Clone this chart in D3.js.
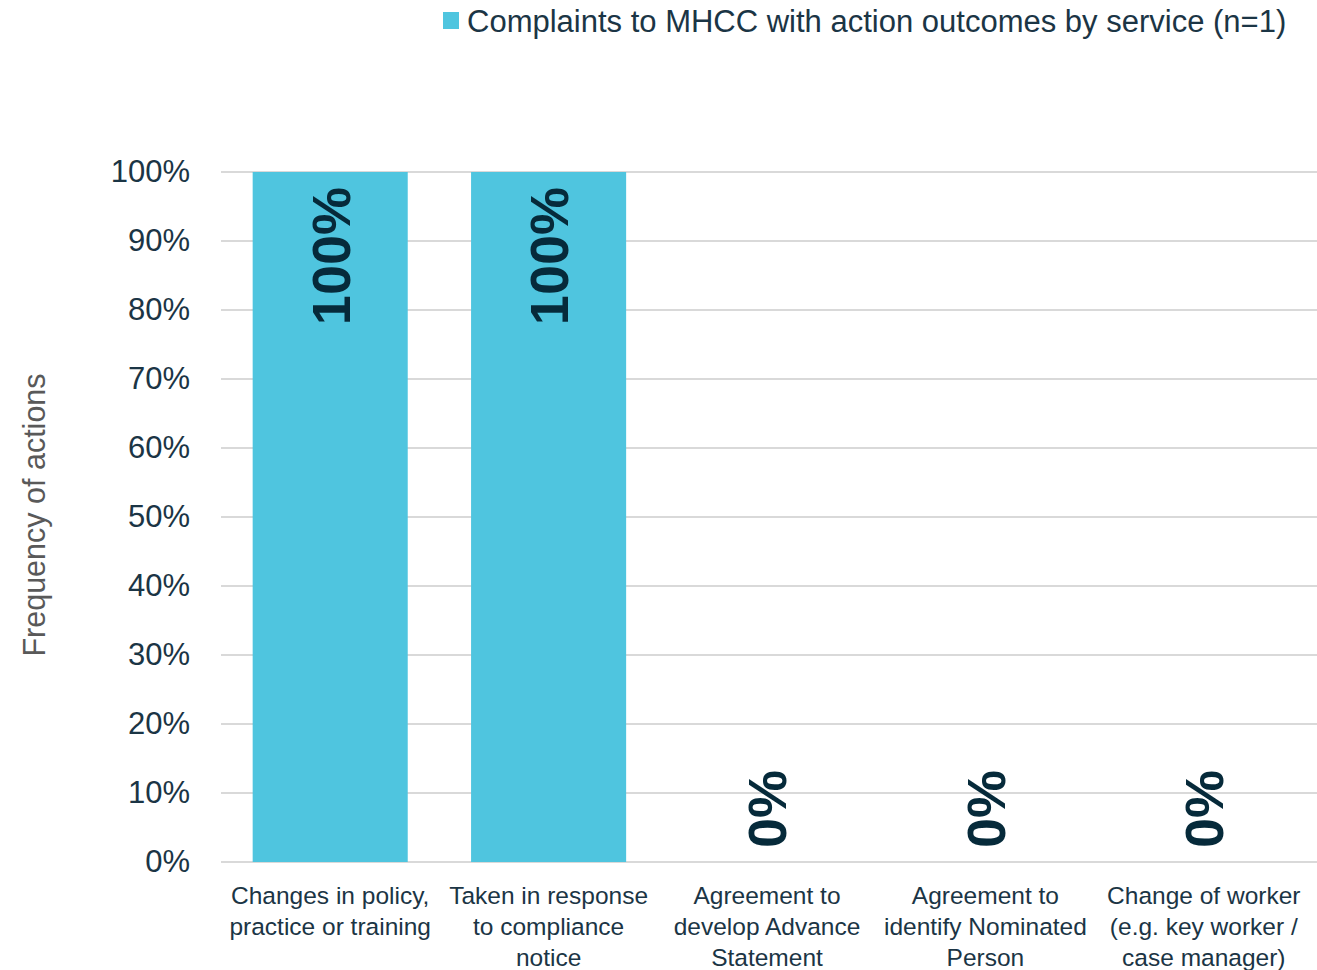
<!DOCTYPE html>
<html>
<head>
<meta charset="utf-8">
<script src="https://cdn.jsdelivr.net/npm/d3@7"></script>
<style>
  html, body { margin: 0; padding: 0; background: #ffffff; }
  svg { display: block; font-family: "Liberation Sans", Arial, sans-serif; }
</style>
</head>
<body>
<svg id="chart" width="1317" height="970"></svg>
<script>
// Action outcomes for MHCC complaints, one value per outcome type
const categories = [
  ["Changes in policy,", "practice or training"],
  ["Taken in response", "to compliance", "notice"],
  ["Agreement to", "develop Advance", "Statement"],
  ["Agreement to", "identify Nominated", "Person"],
  ["Change of worker", "(e.g. key worker /", "case manager)"]
];
const values = [1, 1, 0, 0, 0];
const yTicks = [0, 0.1, 0.2, 0.3, 0.4, 0.5, 0.6, 0.7, 0.8, 0.9, 1.0];
const seriesName = "Complaints to MHCC with action outcomes by service (n=1)";
const yTitle = "Frequency of actions";

const barColor = "#4fc5df";
const textColor = "#1b3545";
const labelColor = "#062a3a";
const gridColor = "#d9d9d9";

const svg = d3.select("#chart");
const W = 1317, H = 970;
const plotLeft = 221, plotRight = 1313, plotTop = 172, plotBottom = 862;

const x = d3.scaleBand()
  .domain(d3.range(categories.length))
  .range([plotLeft, plotRight])
  .paddingInner(0.29)
  .paddingOuter(0.145);

const y = d3.scaleLinear()
  .domain([0, 1])
  .range([plotBottom, plotTop]);

// Horizontal gridlines
svg.append("g")
  .selectAll("line")
  .data(yTicks)
  .join("line")
  .attr("x1", plotLeft)
  .attr("x2", W)
  .attr("y1", d => y(d))
  .attr("y2", d => y(d))
  .attr("stroke", gridColor)
  .attr("stroke-width", 2);

// Y axis tick labels
const yAxis = d3.axisLeft(y)
  .tickValues(yTicks)
  .tickFormat(d3.format(".0%"))
  .tickSize(0)
  .tickPadding(31);
const yg = svg.append("g")
  .attr("transform", `translate(${plotLeft},0)`)
  .call(yAxis);
yg.select(".domain").remove();
yg.selectAll("text")
  .attr("fill", textColor)
  .style("font-size", "31px")
  .style("font-family", "'Liberation Sans', Arial, sans-serif");

// Bars
svg.append("g")
  .selectAll("rect")
  .data(values)
  .join("rect")
  .attr("x", (d, i) => x(i))
  .attr("width", x.bandwidth())
  .attr("y", d => y(d))
  .attr("height", d => y(0) - y(d))
  .attr("fill", barColor);

// Rotated value labels
svg.append("g")
  .selectAll("text")
  .data(values)
  .join("text")
  .attr("transform", (d, i) => {
    const cx = x(i) + x.bandwidth() / 2;
    const cy = d > 0 ? y(d) + 15 : y(d) - 14;
    return `translate(${cx},${cy}) rotate(-90)`;
  })
  .attr("text-anchor", d => d > 0 ? "end" : "start")
  .attr("dy", "0.36em")
  .attr("fill", labelColor)
  .style("font-weight", "bold")
  .style("font-size", "54px")
  .text(d => d3.format(".0%")(d));

// Category labels
const xg = svg.append("g");
categories.forEach((lines, i) => {
  const cx = x(i) + x.bandwidth() / 2;
  const t = xg.append("text")
    .attr("x", cx)
    .attr("y", 904)
    .attr("text-anchor", "middle")
    .attr("fill", textColor)
    .style("font-size", "24.5px");
  lines.forEach((ln, j) => {
    t.append("tspan")
      .attr("x", cx)
      .attr("dy", j === 0 ? 0 : 31)
      .text(ln);
  });
});

// Y axis title
svg.append("text")
  .attr("transform", `translate(45,515) rotate(-90)`)
  .attr("text-anchor", "middle")
  .attr("fill", "#595959")
  .style("font-size", "30.5px")
  .text(yTitle);

// Legend
const lg = svg.append("g").attr("transform", "translate(443,12)");
lg.append("rect")
  .attr("width", 16)
  .attr("height", 17)
  .attr("fill", barColor);
lg.append("text")
  .attr("x", 24)
  .attr("y", 9)
  .attr("dy", "0.36em")
  .attr("fill", textColor)
  .style("font-size", "31px")
  .text(seriesName);
</script>
</body>
</html>
